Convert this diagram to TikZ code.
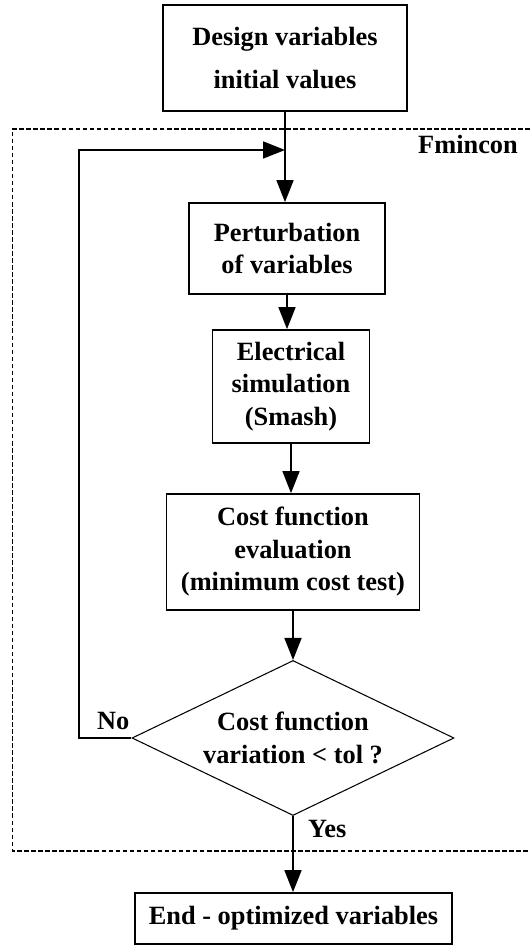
\documentclass[tikz,border=0pt]{standalone}
\usepackage{fontspec}
\setmainfont{Liberation Serif}
\usepackage{tikz}
\usetikzlibrary{arrows.meta}
\usetikzlibrary{shapes.geometric}
\usetikzlibrary{positioning}

\begin{document}
\begin{tikzpicture}[
  box/.style={draw=black,line width=1pt,rectangle,align=center,inner sep=0pt,
    font=\fontsize{15}{18.5}\selectfont\bfseries},
  testbox/.style={draw=black,line width=0.6pt,diamond,aspect=2.08,align=center,inner sep=0pt,
    font=\fontsize{15}{18.5}\selectfont\bfseries},
  flow/.style={line width=1pt,-{Triangle[length=0.44cm,width=0.34cm]}},
  lbl/.style={font=\fontsize{15}{18}\selectfont\bfseries}
]
\useasboundingbox (0,0) rectangle (10.6,18.9);

\node[box,minimum width=4.88cm,minimum height=2.12cm,font=\fontsize{15}{24.4}\selectfont\bfseries] (design) at (5.70,17.74) {Design variables\\initial values};
\node[box,minimum width=3.92cm,minimum height=1.82cm] (perturb) at (5.74,13.93) {Perturbation\\of variables};
\node[box,minimum width=3.14cm,minimum height=2.26cm] (simul) at (5.82,11.17) {Electrical\\simulation\\(Smash)};
\node[box,minimum width=5.06cm,minimum height=2.32cm] (cost) at (5.86,7.86) {Cost function\\evaluation\\(minimum cost test)};
\node[testbox,minimum width=6.44cm,minimum height=3.10cm] (decision) at (5.86,4.14) {Cost function\\variation {<} tol ?};
\node[box,minimum width=6.34cm,minimum height=1.02cm] (final) at (5.87,0.53) {End - optimized variables};

% fmincon frame
\draw[line width=0.8pt,dash pattern=on 2.6pt off 1.4pt] (10.6,16.32) -- (0.25,16.32) -- (0.25,1.88) -- (10.6,1.88);
\node[lbl,anchor=base east] (fmincon) at (10.48,15.82) {Fmincon};

\draw[flow] (design.south) -- (design.south |- perturb.north);
\draw[flow] (perturb.south) -- (perturb.south |- simul.north);
\draw[flow] (simul.south) -- (simul.south |- cost.north);
\draw[flow] (cost) -- (decision);
\draw[flow] (decision.south) -- (decision.south |- final.north);

% loop back
\coordinate (loopbot) at (1.58,4.14);
\coordinate (looptop) at (1.58,15.90);
\draw[flow] (decision.west) -- (loopbot) -- (looptop) -- (design.south |- looptop);

\node[lbl,anchor=base west] (no) at (1.82,4.30) {No};
\node[lbl,anchor=base west] (yes) at (6.04,2.14) {Yes};

\end{tikzpicture}
\end{document}
